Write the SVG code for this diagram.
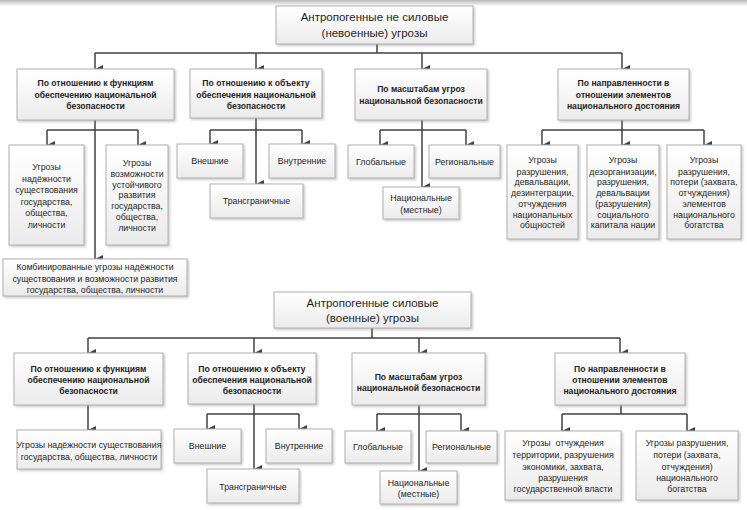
<svg xmlns="http://www.w3.org/2000/svg" width="747" height="510" viewBox="0 0 747 510">
<defs>
<linearGradient id="bg" x1="0" y1="0" x2="0" y2="1"><stop offset="0" stop-color="#ffffff"/><stop offset="1" stop-color="#ebebeb"/></linearGradient>
<linearGradient id="topshade" x1="0" y1="0" x2="0" y2="1"><stop offset="0" stop-color="#b8b8b8"/><stop offset="1" stop-color="#ffffff"/></linearGradient>
<filter id="sh" x="-10%" y="-10%" width="130%" height="130%"><feDropShadow dx="1.5" dy="1.5" stdDeviation="1" flood-color="#888" flood-opacity="0.45"/></filter>
<marker id="ar" markerUnits="userSpaceOnUse" markerWidth="8" markerHeight="9" refX="4" refY="8" orient="auto-start-reverse" viewBox="0 0 8 9"><path d="M0,0 L8,0 L4,8 Z" fill="#404040"/></marker>
<style>
rect.b{fill:url(#bg);stroke:#b0b0b0;stroke-width:1;filter:url(#sh)}
text{font-family:"Liberation Sans",Arial,sans-serif;fill:#1f1f1f;text-anchor:middle}
.t{font-size:11.5px}
.h{font-size:8.6px;font-weight:bold}
.c{font-size:8.8px}
#connectors path{fill:none;stroke:#404040;stroke-width:1.5}
#connectors path.a{marker-end:url(#ar)}
</style>
</defs>
<rect x="0" y="0" width="747" height="510" fill="#ffffff"/>
<rect x="0" y="0" width="747" height="6" fill="url(#topshade)"/>

<g id="connectors">
<path d="M377,44 V53 M95,53 H622"/>
<path class="a" d="M95,53 V69"/><path class="a" d="M256,53 V69"/><path class="a" d="M422,53 V69"/><path class="a" d="M622,53 V69"/>
<path class="a" d="M95,120 V259"/>
<path d="M47,130 H138"/><path class="a" d="M47,130 V145"/><path class="a" d="M138,130 V145"/>
<path class="a" d="M256,118 V184"/>
<path d="M210,130 H302"/><path class="a" d="M210,130 V144"/><path class="a" d="M302,130 V144"/>
<path class="a" d="M422,120 V187"/>
<path d="M380,130 H466"/><path class="a" d="M380,130 V145"/><path class="a" d="M466,130 V145"/>
<path d="M622,120 V130 M542,130 H704"/>
<path class="a" d="M542,130 V145"/><path class="a" d="M622,130 V145"/><path class="a" d="M704,130 V145"/>

<path d="M372,328 V338 M88,338 H620"/>
<path class="a" d="M88,338 V353"/><path class="a" d="M254,338 V353"/><path class="a" d="M419,338 V353"/><path class="a" d="M620,338 V353"/>
<path class="a" d="M88,405 V430"/>
<path class="a" d="M254,404 V469"/>
<path d="M207,414 H299"/><path class="a" d="M207,414 V429"/><path class="a" d="M299,414 V429"/>
<path class="a" d="M419,405 V471"/>
<path d="M377,414 H461"/><path class="a" d="M377,414 V431"/><path class="a" d="M461,414 V431"/>
<path d="M621,405 V414 M562,414 H687"/>
<path class="a" d="M562,414 V431"/><path class="a" d="M687,414 V431"/>
</g>

<g id="title1"><rect class="b" x="276" y="6" width="197" height="38"/>
<text class="t" x="374.5" y="21">Антропогенные не силовые</text><text class="t" x="374.5" y="37">(невоенные) угрозы</text></g>

<g id="n1A"><rect class="b" x="17" y="69" width="157" height="51"/>
<text class="h" x="95.5" y="86">По отношению к функциям</text><text class="h" x="95.5" y="98">обеспечению национальной</text><text class="h" x="95.5" y="109">безопасности</text></g>
<g id="n1B"><rect class="b" x="190" y="69" width="132" height="49"/>
<text class="h" x="256" y="86">По отношению к объекту</text><text class="h" x="256" y="98">обеспечения национальной</text><text class="h" x="256" y="109">безопасности</text></g>
<g id="n1C"><rect class="b" x="355" y="69" width="132" height="51"/>
<text class="h" x="421" y="92">По масштабам угроз</text><text class="h" x="421" y="104">национальной безопасности</text></g>
<g id="n1D"><rect class="b" x="558" y="69" width="131" height="51"/>
<text class="h" x="623.5" y="86">По направленности в</text><text class="h" x="623.5" y="97.5">отношении элементов</text><text class="h" x="623.5" y="109">национального достояния</text></g>

<g id="n1A1"><rect class="b" x="9" y="145" width="75" height="100"/>
<text class="c" x="46.5" y="170">Угрозы</text><text class="c" x="46.5" y="181.5">надёжности</text><text class="c" x="46.5" y="193">существования</text><text class="c" x="46.5" y="204.5">государства,</text><text class="c" x="46.5" y="216">общества,</text><text class="c" x="46.5" y="227.5">личности</text></g>
<g id="n1A2"><rect class="b" x="106" y="145" width="62" height="100"/>
<text class="c" x="137" y="166">Угрозы</text><text class="c" x="137" y="176.8">возможности</text><text class="c" x="137" y="187.6">устойчивого</text><text class="c" x="137" y="198.4">развития</text><text class="c" x="137" y="209.2">государства,</text><text class="c" x="137" y="220">общества,</text><text class="c" x="137" y="230.8">личности</text></g>
<g id="n1A3"><rect class="b" x="3" y="259" width="184" height="37"/>
<text class="c" x="95" y="270">Комбинированные угрозы надёжности</text><text class="c" x="95" y="282">существования и возможности развития</text><text class="c" x="95" y="293">государства, общества, личности</text></g>

<g id="n1B1"><rect class="b" x="177" y="144" width="66" height="34"/><text class="c" x="210" y="164">Внешние</text></g>
<g id="n1B2"><rect class="b" x="269" y="144" width="66" height="34"/><text class="c" x="302" y="164">Внутренние</text></g>
<g id="n1B3"><rect class="b" x="210" y="184" width="93" height="34"/><text class="c" x="256.5" y="204">Трансграничные</text></g>

<g id="n1C1"><rect class="b" x="348" y="145" width="66" height="33"/><text class="c" x="381" y="165">Глобальные</text></g>
<g id="n1C2"><rect class="b" x="429" y="145" width="71" height="33"/><text class="c" x="464.5" y="165">Региональные</text></g>
<g id="n1C3"><rect class="b" x="383" y="187" width="76" height="32"/><text class="c" x="421" y="201">Национальные</text><text class="c" x="421" y="213">(местные)</text></g>

<g id="n1D1"><rect class="b" x="507" y="145" width="71" height="94"/>
<text class="c" x="542.5" y="163">Угрозы</text><text class="c" x="542.5" y="174.7">разрушения,</text><text class="c" x="542.5" y="185.4">девальвации,</text><text class="c" x="542.5" y="196.1">дезинтеграции,</text><text class="c" x="542.5" y="206.8">отчуждения</text><text class="c" x="542.5" y="217.5">национальных</text><text class="c" x="542.5" y="228.2">общностей</text></g>
<g id="n1D2"><rect class="b" x="587" y="145" width="72" height="94"/>
<text class="c" x="623" y="163">Угрозы</text><text class="c" x="623" y="174.7">дезорганизации,</text><text class="c" x="623" y="185.4">разрушения,</text><text class="c" x="623" y="196.1">девальвации</text><text class="c" x="623" y="206.8">(разрушения)</text><text class="c" x="623" y="217.5">социального</text><text class="c" x="623" y="228.2">капитала нации</text></g>
<g id="n1D3"><rect class="b" x="667" y="145" width="74" height="94"/>
<text class="c" x="704" y="163">Угрозы</text><text class="c" x="704" y="174.7">разрушения,</text><text class="c" x="704" y="185.4">потери (захвата,</text><text class="c" x="704" y="196.1">отчуждения)</text><text class="c" x="704" y="206.8">элементов</text><text class="c" x="704" y="217.5">национального</text><text class="c" x="704" y="228.2">богатства</text></g>

<g id="title2"><rect class="b" x="274" y="292" width="197" height="36"/>
<text class="t" x="372.5" y="307">Антропогенные силовые</text><text class="t" x="372.5" y="322">(военные) угрозы</text></g>

<g id="n2A"><rect class="b" x="14" y="353" width="149" height="52"/>
<text class="h" x="88.5" y="372">По отношению к функциям</text><text class="h" x="88.5" y="383">обеспечению национальной</text><text class="h" x="88.5" y="394">безопасности</text></g>
<g id="n2B"><rect class="b" x="188" y="353" width="128" height="51"/>
<text class="h" x="252" y="372">По отношению к объекту</text><text class="h" x="252" y="383">обеспечения национальной</text><text class="h" x="252" y="394">безопасности</text></g>
<g id="n2C"><rect class="b" x="352" y="353" width="133" height="52"/>
<text class="h" x="418.5" y="380">По масштабам угроз</text><text class="h" x="418.5" y="391">национальной безопасности</text></g>
<g id="n2D"><rect class="b" x="555" y="353" width="130" height="52"/>
<text class="h" x="620" y="372">По направленности в</text><text class="h" x="620" y="383">отношении элементов</text><text class="h" x="620" y="394">национального достояния</text></g>

<g id="n2A1"><rect class="b" x="17" y="430" width="144" height="39"/>
<text class="c" x="89" y="448">Угрозы надёжности существования</text><text class="c" x="89" y="460">государства, общества, личности</text></g>

<g id="n2B1"><rect class="b" x="174" y="429" width="67" height="34"/><text class="c" x="207.5" y="449">Внешние</text></g>
<g id="n2B2"><rect class="b" x="266" y="429" width="66" height="34"/><text class="c" x="299" y="449">Внутренние</text></g>
<g id="n2B3"><rect class="b" x="207" y="469" width="92" height="34"/><text class="c" x="253" y="490">Трансграничные</text></g>

<g id="n2C1"><rect class="b" x="345" y="431" width="66" height="32"/><text class="c" x="378" y="450">Глобальные</text></g>
<g id="n2C2"><rect class="b" x="426" y="431" width="71" height="32"/><text class="c" x="461.5" y="450">Региональные</text></g>
<g id="n2C3"><rect class="b" x="380" y="471" width="77" height="33"/><text class="c" x="418.5" y="486">Национальные</text><text class="c" x="418.5" y="497">(местные)</text></g>

<g id="n2D1"><rect class="b" x="505" y="431" width="116" height="69"/>
<text class="c" x="563" y="446" xml:space="preserve">Угрозы  отчуждения</text><text class="c" x="563" y="458">территории, разрушения</text><text class="c" x="563" y="470">экономики, захвата,</text><text class="c" x="563" y="481">разрушения</text><text class="c" x="563" y="492">государственной власти</text></g>
<g id="n2D2"><rect class="b" x="636" y="431" width="102" height="69"/>
<text class="c" x="687" y="446">Угрозы разрушения,</text><text class="c" x="687" y="458">потери (захвата,</text><text class="c" x="687" y="470">отчуждения)</text><text class="c" x="687" y="481">национального</text><text class="c" x="687" y="492">богатства</text></g>
</svg>
